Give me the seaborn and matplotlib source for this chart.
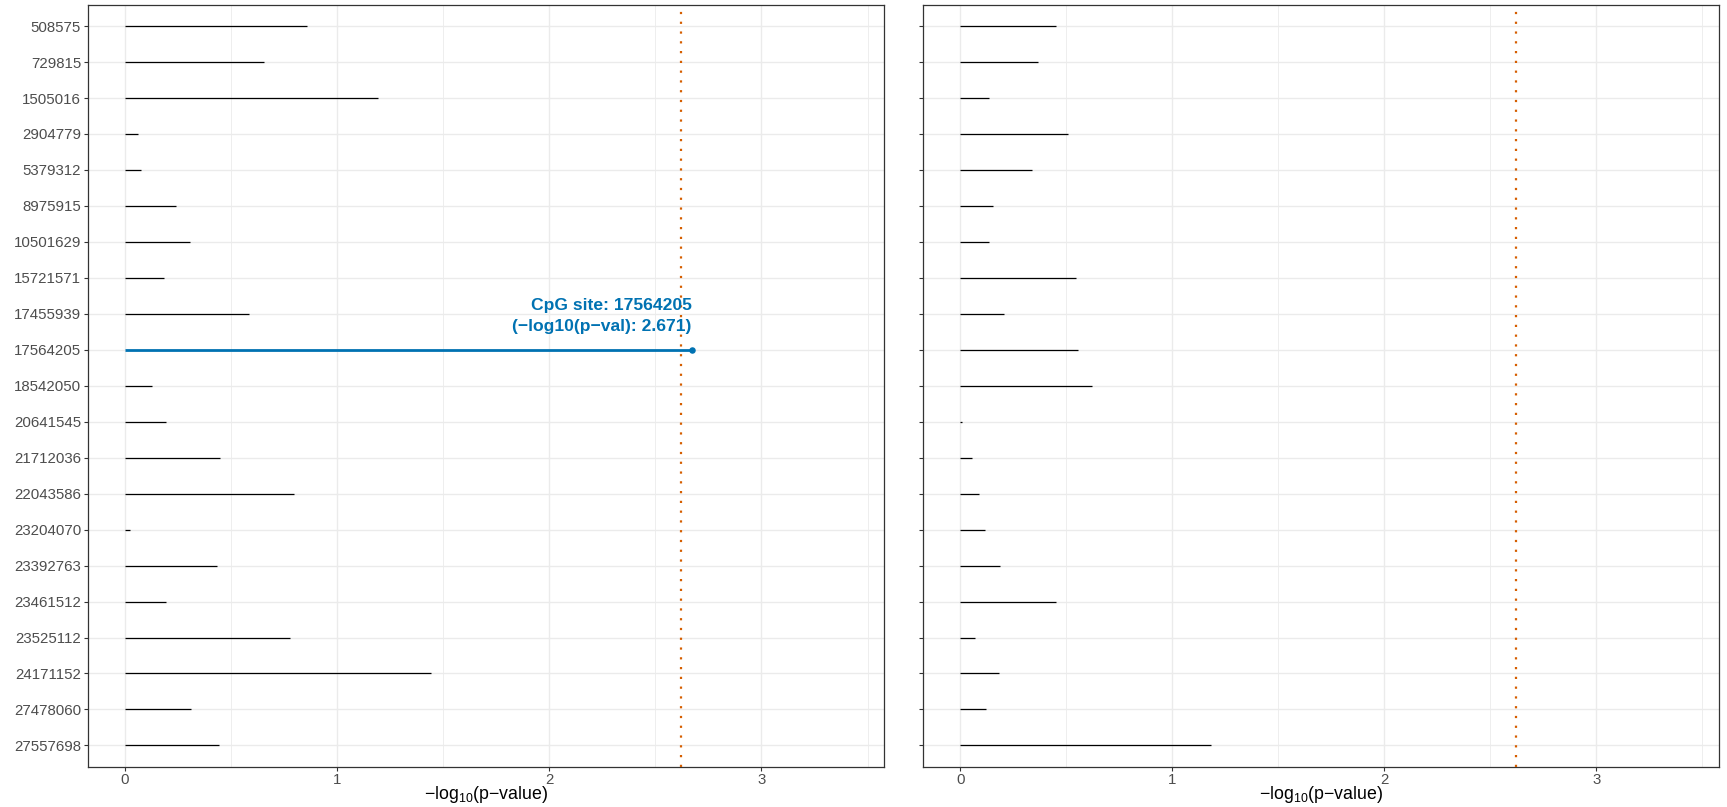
import matplotlib
matplotlib.use("Agg")
import matplotlib.pyplot as plt
from matplotlib.ticker import MultipleLocator
import seaborn as sns
import pandas as pd

# CpG site positions (shared by both panels)
cpg_sites = ["508575", "729815", "1505016", "2904779", "5379312", "8975915",
             "10501629", "15721571", "17455939", "17564205", "18542050",
             "20641545", "21712036", "22043586", "23204070", "23392763",
             "23461512", "23525112", "24171152", "27478060", "27557698"]

# -log10(p-value) per site
left_values = [0.856, 0.655, 1.195, 0.063, 0.078, 0.240, 0.308, 0.182, 0.587,
               2.671, 0.130, 0.196, 0.447, 0.799, 0.022, 0.435, 0.192, 0.776,
               1.443, 0.311, 0.444]
right_values = [0.452, 0.366, 0.138, 0.507, 0.341, 0.155, 0.137, 0.545, 0.206,
                0.557, 0.622, 0.011, 0.058, 0.091, 0.115, 0.187, 0.454, 0.069,
                0.185, 0.122, 1.181]

# Bonferroni threshold: -log10(0.05 / number of sites)
threshold = 2.623
highlight_site = "17564205"
x_ticks = [0, 1, 2, 3]

sns.set_theme(style="whitegrid")
plt.rcParams["font.family"] = ["Liberation Sans", "DejaVu Sans"]
plt.rcParams["mathtext.fontset"] = "custom"
plt.rcParams["mathtext.rm"] = "Liberation Sans"
plt.rcParams["mathtext.it"] = "Liberation Sans:italic"

BLUE = "#0072B2"
ORANGE = "#D55E00"
GRID = "#EBEBEB"
BORDER = "#333333"
TICKTXT = "#4D4D4D"

fig = plt.figure(figsize=(17.27, 8.07), dpi=100)
ax_l = fig.add_axes([0.05095, 0.04957, 0.46095, 0.94485])
ax_r = fig.add_axes([0.5346, 0.04957, 0.46077, 0.94485])

panels = [(ax_l, left_values, True), (ax_r, right_values, False)]
for ax, values, highlight in panels:
    df = pd.DataFrame({"site": cpg_sites, "value": values})
    df["pos"] = range(len(df))
    base = df[df["site"] != highlight_site] if highlight else df
    ax.hlines(base["pos"], 0, base["value"], color="black", lw=0.9, zorder=3)

    if highlight:
        hl = df[df["site"] == highlight_site]
        ax.hlines(hl["pos"], 0, hl["value"], color=BLUE, lw=2.0, zorder=4)
        sns.scatterplot(data=hl, x="value", y="pos", ax=ax, color=BLUE,
                        s=22, edgecolor=BLUE, linewidth=0, zorder=5)
        v = float(hl["value"].iloc[0])
        p = float(hl["pos"].iloc[0])
        ax.text(v, p - 0.94,
                f"CpG site: {highlight_site}\n(\u2212log10(p\u2212val): {v:.3f})",
                ha="right", va="center", color=BLUE, fontsize=12.6,
                fontweight="bold", linespacing=1.5, zorder=6)

    ax.axvline(threshold, color=ORANGE, lw=1.6, linestyle=(0, (1, 3.4)), zorder=4)

    ax.set_xlim(-0.174, 3.578)
    ax.set_ylim(len(cpg_sites) - 0.4, -0.6)
    ax.set_yticks(range(len(cpg_sites)))
    ax.set_yticklabels(cpg_sites if highlight else [])
    ax.set_xticks(x_ticks)
    ax.xaxis.set_minor_locator(MultipleLocator(0.5))

    ax.grid(True, which="major", color=GRID, lw=1.0, zorder=0)
    ax.grid(True, which="minor", axis="x", color=GRID, lw=0.6, zorder=0)
    ax.set_axisbelow(True)

    for s in ax.spines.values():
        s.set_visible(True)
        s.set_color(BORDER)
        s.set_linewidth(0.9)

    ax.tick_params(axis="both", which="major", length=3, width=0.8,
                   color=BORDER, labelcolor=TICKTXT, labelsize=10.8, pad=2,
                   left=True, bottom=True)
    ax.tick_params(axis="x", which="major", pad=1.5)
    ax.tick_params(axis="x", which="minor", length=0)
    ax.set_xlabel("\u2212log$_{10}$(p\u2212value)", fontsize=12.8, color="black",
                  labelpad=-2)
    ax.set_ylabel("")
    ax.set_facecolor("white")

fig.savefig("out.png", dpi=100, facecolor="white")
